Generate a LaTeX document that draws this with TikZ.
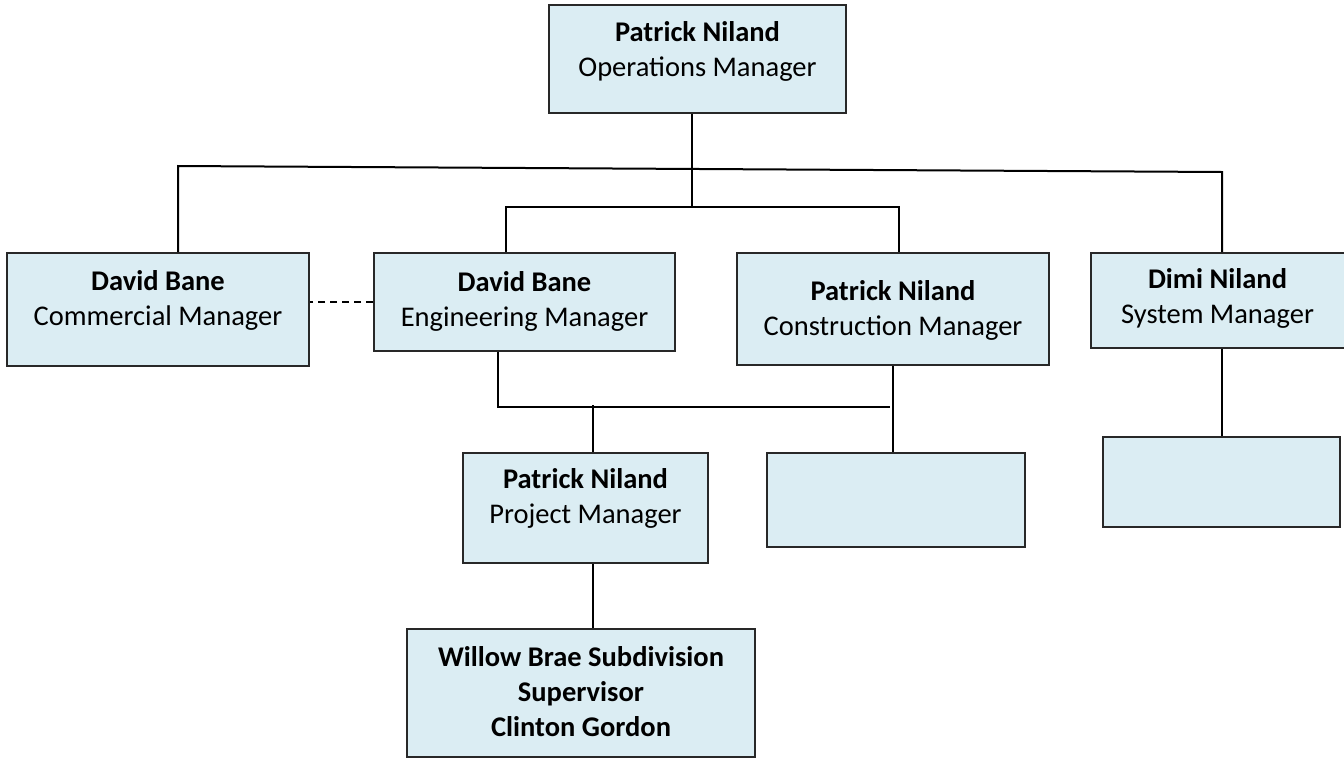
\documentclass[tikz,border=0pt]{standalone}
\usepackage{fontspec}
\setmainfont{Carlito}
\usepackage{xcolor}
\usetikzlibrary{positioning,calc}
\definecolor{boxfill}{RGB}{219,237,243}
\definecolor{boxline}{RGB}{40,40,40}

\begin{document}
\begin{tikzpicture}[x=1pt,y=-1pt,
    post/.style={draw=boxline, fill=boxfill, line width=1.6pt, inner sep=0pt},
    caption/.style={anchor=north, inner sep=0pt, align=center, font=\fontsize{28.5}{35}\selectfont},
    wire/.style={line width=2pt, black},
    link/.style={wire, dash pattern=on 7pt off 5pt}]
    \useasboundingbox (0,0) rectangle (1344,758);

    % boxes
    \node[post, minimum width=297, minimum height=108] (ops) at (697.5,59) {};
    \node[post, minimum width=302, minimum height=113] (comm) at (158,309.5) {};
    \node[post, minimum width=301, minimum height=98] (eng) at (524.5,302) {};
    \node[post, minimum width=312, minimum height=112] (cons) at (893,309) {};
    \node[post, minimum width=259, minimum height=95] (sys) at (1220.5,300.5) {};
    \node[post, minimum width=245, minimum height=110] (proj) at (585.5,508) {};
    \node[post, minimum width=258, minimum height=94] (consblank) at (896,500) {};
    \node[post, minimum width=237, minimum height=90] (sysblank) at (1221.5,482) {};
    \node[post, minimum width=348, minimum height=128] (site) at (581,693) {};

    % names and roles
    \node[caption] (opsname) at ([yshift=-17pt]ops.north) {\textbf{Patrick Niland}\\Operations Manager};
    \node[caption] (commname) at ([yshift=-18pt]comm.north) {\textbf{David Bane}\\Commercial Manager};
    \node[caption] (engname) at ([yshift=-19pt]eng.north) {\textbf{David Bane}\\Engineering Manager};
    \node[caption] (consname) at ([yshift=-28pt]cons.north) {\textbf{Patrick Niland}\\Construction Manager};
    \node[caption] (sysname) at ([yshift=-16pt,xshift=-3pt]sys.north) {\textbf{Dimi Niland}\\System Manager};
    \node[caption] (projname) at ([yshift=-16pt]proj.north) {\textbf{Patrick Niland}\\Project Manager};
    \node[caption, font=\fontsize{28.5}{35}\selectfont\bfseries] (sitename) at ([yshift=-18pt]site.north)
        {Willow Brae Subdivision\\Supervisor\\Clinton Gordon};

    % reporting lines
    \coordinate (opstap) at (692,207);
    \coordinate (leftend) at (178,166);
    \coordinate (rightend) at (1222,172);
    \coordinate (engtop) at (506,207);
    \coordinate (constop) at (899,207);
    \coordinate (engbot) at (498,407);
    \coordinate (consbot) at (890,407);
    \coordinate (projtap) at (593,405);

    \draw[wire] (opstap |- ops.south) -- (opstap);
    \draw[wire] (comm.north -| leftend) -- (leftend) -- (rightend) -- (sys.north -| rightend);
    \draw[wire] (eng.north -| engtop) -- (engtop) -- (constop) -- (cons.north -| constop);
    \draw[wire] (eng.south -| engbot) -- (engbot) -- (consbot);
    \draw[wire] (projtap) -- (proj.north -| projtap);
    \draw[wire] (cons.south) -- (cons.south |- consblank.north);
    \draw[wire] (proj.south -| projtap) -- (site.north -| projtap);
    \draw[wire] (sysblank.north) -- (sysblank.north |- sys.south);
    \draw[link] (eng.west) -- (eng.west -| comm.east);
\end{tikzpicture}
\end{document}
